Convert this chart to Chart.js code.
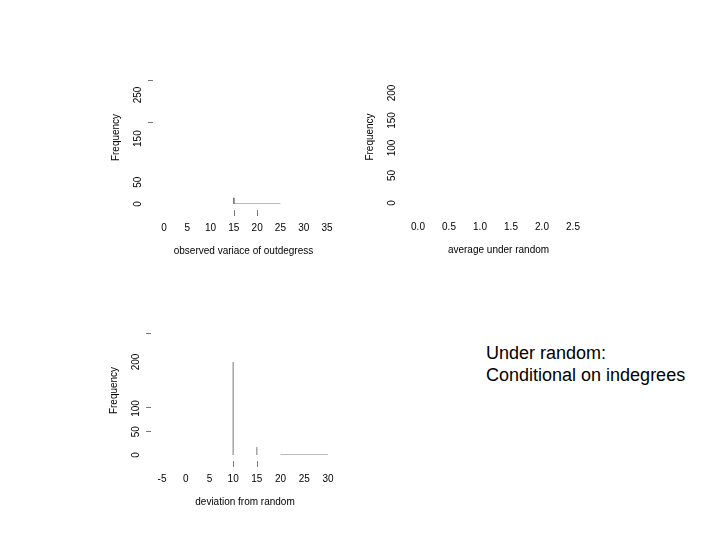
<!DOCTYPE html>
<html><head><meta charset="utf-8">
<script src="https://cdn.jsdelivr.net/npm/chart.js@4"></script>
<style>
body{margin:0;background:#fff;width:720px;height:540px;position:relative;overflow:hidden;font-family:"Liberation Sans",Arial,sans-serif}
canvas{position:absolute}
#note{position:absolute;left:486px;top:342px;font-size:18px;line-height:22px;color:#000}
</style></head><body>
<canvas id="c1" style="left:100px;top:70px"></canvas>
<canvas id="c2" style="left:355px;top:70px"></canvas>
<canvas id="c3" style="left:100px;top:320px"></canvas>
<div id="note">Under random:<br>Conditional on indegrees</div>
<script>
// panel 1: observed variance of outdegrees
const p1XTicks=[0,5,10,15,20,25,30,35];
const p1YTicks=[0,50,150,250];
const p1YDashes=[188,284];
const p1XDashes=[15,20];
const p1Outline=[{x:15,y:14},{x:15,y:0},{x:25,y:0}];
// panel 2: average under random
const p2XTicks=[0,0.5,1,1.5,2,2.5];
const p2YTicks=[0,50,100,150,200];
// panel 3: deviation from random
const p3XTicks=[-5,0,5,10,15,20,25,30];
const p3YTicks=[0,50,100,200];
const p3YDashes=[51,103,262];
const p3XDashes=[10,15];
const p3BarA=[{x:10,y:0},{x:10,y:217}];
const p3BarB=[{x:15,y:0},{x:15,y:17}];
const p3Flat=[{x:20,y:0},{x:30,y:0}];

const axCfg={};
const axPlugin={id:'ax',afterDraw(ch){
  const o=axCfg[ch.canvas.id],ctx=ch.ctx,xs=ch.scales.x,ys=ch.scales.y,a=ch.chartArea;
  ctx.save();ctx.fillStyle='#000';ctx.strokeStyle='#777';ctx.lineWidth=1;
  ctx.font='10px "Liberation Sans",Arial';
  ctx.textAlign='center';ctx.textBaseline='middle';
  o.xt.forEach(v=>ctx.fillText(o.xf(v),xs.getPixelForValue(v),a.bottom+24));
  o.yt.forEach(v=>{ctx.save();ctx.translate(a.left-26,ys.getPixelForValue(v));ctx.rotate(-Math.PI/2);ctx.fillText(String(v),0,0);ctx.restore();});
  ctx.beginPath();
  (o.yd||[]).forEach(v=>{const y=Math.round(ys.getPixelForValue(v))+0.5;ctx.moveTo(a.left-16,y);ctx.lineTo(a.left-11,y);});
  (o.xd||[]).forEach(v=>{const x=Math.round(xs.getPixelForValue(v))+0.5;ctx.moveTo(x,a.bottom+6);ctx.lineTo(x,a.bottom+12);});
  ctx.stroke();
  ctx.fillText(o.xl,(a.left+a.right)/2+(o.xo||0),a.bottom+47);
  ctx.save();ctx.translate(a.left-48,(a.top+a.bottom)/2+(o.yo||0));ctx.rotate(-Math.PI/2);ctx.fillText('Frequency',0,0);ctx.restore();
  ctx.restore();
}};
function ds(d){return{data:d,borderColor:'#777',borderWidth:1,pointRadius:0,fill:false,tension:0};}
function make(id,w,h,pad,xr,yr,sets,ax){
  axCfg[id]=ax;
  const c=document.getElementById(id);c.width=w;c.height=h;c.style.width=w+'px';c.style.height=h+'px';
  new Chart(c,{type:'line',data:{datasets:sets.map(ds)},plugins:[axPlugin],
    options:{responsive:false,animation:false,layout:{padding:pad},
      scales:{x:{type:'linear',min:xr[0],max:xr[1],display:false},y:{min:yr[0],max:yr[1],display:false}},
      plugins:{legend:{display:false},tooltip:{enabled:false}}}});
}
make('c1',250,200,{left:64,right:23,top:25,bottom:66},[0,35],[0,250],[p1Outline],
  {xt:p1XTicks,yt:p1YTicks,yd:p1YDashes,xd:p1XDashes,xf:v=>String(v),xl:'observed variace of outdegress',xo:-2,yo:-12});
make('c2',240,200,{left:63,right:22,top:23,bottom:67},[0,2.5],[0,200],[],
  {xt:p2XTicks,yt:p2YTicks,xf:v=>v.toFixed(1),xl:'average under random',xo:3,yo:-11});
make('c3',250,200,{left:62,right:22,top:42,bottom:65},[-5,30],[0,200],[p3BarA,p3BarB,p3Flat],
  {xt:p3XTicks,yt:p3YTicks,yd:p3YDashes,xd:p3XDashes,xf:v=>String(v),xl:'deviation from random',xo:0,yo:-18});
</script></body></html>
